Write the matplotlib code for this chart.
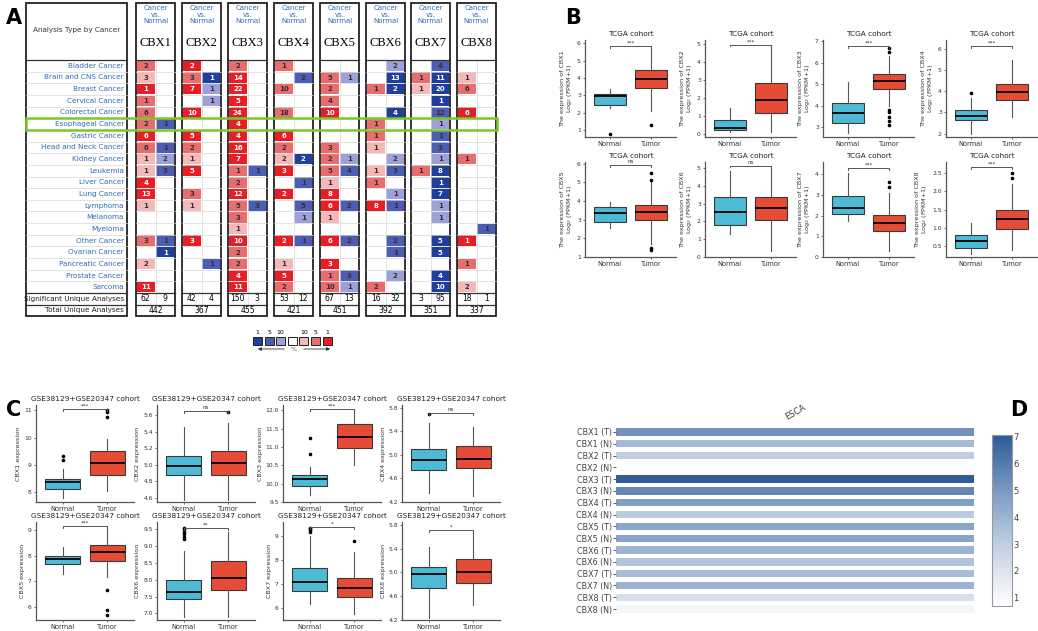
import matplotlib
matplotlib.use("Agg")
import matplotlib.pyplot as plt
from matplotlib.patches import Rectangle
from matplotlib.colors import LinearSegmentedColormap, Normalize
from matplotlib.cm import ScalarMappable

# ============================================
# DATA
# ============================================

genes = ["CBX1", "CBX2", "CBX3", "CBX4", "CBX5", "CBX6", "CBX7", "CBX8"]
cancers = ["Bladder Cancer", "Brain and CNS Cancer", "Breast Cancer", "Cervical Cancer",
           "Colorectal Cancer", "Esophageal Cancer", "Gastric Cancer", "Head and Neck Cancer",
           "Kidney Cancer", "Leukemia", "Liver Cancer", "Lung Cancer", "Lymphoma", "Melanoma",
           "Myeloma", "Other Cancer", "Ovarian Cancer", "Pancreatic Cancer", "Prostate Cancer",
           "Sarcoma"]

# count + gene-rank shade (s = top 1%, m = top 5%, l = top 10%)
cbx1_up = ["2m", "3l", "1s", "1m", "6m", "2m", "6s", "6m", "1l", "1l", "4s", "13s", "1l", "", "", "3m", "", "2l", "", "11s"]
cbx1_down = ["", "", "", "", "", "1m", "", "1m", "2l", "3m", "", "", "", "", "", "1m", "1s", "", "", ""]
cbx2_up = ["2s", "3m", "7s", "", "10s", "", "5s", "2m", "1l", "5s", "", "3m", "1l", "", "", "3s", "", "", "", ""]
cbx2_down = ["", "1s", "1l", "1l", "", "", "", "", "", "", "", "", "", "", "", "", "", "1m", "", ""]
cbx3_up = ["2m", "14s", "22s", "5s", "24s", "4s", "4s", "16s", "7s", "1m", "2m", "12s", "5m", "3m", "1l", "10s", "2m", "2m", "4s", "11s"]
cbx3_down = ["", "", "", "", "", "", "", "", "", "1m", "", "", "3m", "", "", "", "", "", "", ""]
cbx4_up = ["1m", "", "10m", "", "18m", "", "6s", "2m", "2l", "3s", "", "2s", "", "", "", "2s", "", "1l", "5s", "2m"]
cbx4_down = ["", "2m", "", "", "", "", "", "", "2s", "", "1m", "", "5m", "1l", "", "1m", "", "", "", ""]
cbx5_up = ["", "5m", "2m", "4m", "10s", "", "", "3m", "2m", "5m", "1l", "8s", "6s", "1l", "", "6s", "", "3s", "1m", "10m"]
cbx5_down = ["", "1l", "", "", "", "", "", "", "1l", "4m", "", "", "2m", "", "", "2m", "", "", "3m", "1l"]
cbx6_up = ["", "", "1m", "", "", "1m", "1m", "1l", "", "1l", "1m", "", "8s", "", "", "", "", "", "", "2m"]
cbx6_down = ["2l", "13s", "2s", "", "4s", "", "", "", "2l", "3m", "", "1l", "1m", "", "", "2m", "1m", "", "2l", ""]
cbx7_up = ["", "1m", "1l", "", "", "", "", "", "", "1m", "", "", "", "", "", "", "", "", "", ""]
cbx7_down = ["4m", "11s", "20s", "1s", "12m", "1l", "1m", "3m", "1l", "8s", "1s", "7s", "1l", "1l", "", "5s", "5s", "", "4s", "10s"]
cbx8_up = ["", "1l", "6m", "", "6s", "", "", "", "1m", "", "", "", "", "", "", "1s", "", "1m", "", "2l"]
cbx8_down = ["", "", "", "", "", "", "", "", "", "", "", "", "", "", "1m", "", "", "", "", ""]
up_cols = [cbx1_up, cbx2_up, cbx3_up, cbx4_up, cbx5_up, cbx6_up, cbx7_up, cbx8_up]
down_cols = [cbx1_down, cbx2_down, cbx3_down, cbx4_down, cbx5_down, cbx6_down, cbx7_down, cbx8_down]

sig_up = [62, 42, 150, 53, 67, 16, 3, 18]
sig_down = [9, 4, 3, 12, 13, 32, 95, 1]
total_analyses = [442, 367, 455, 421, 451, 392, 351, 337]

# box summaries: [whislo, q1, median, q3, whishi]
tcga_normal = [[2.3, 2.45, 2.97, 3.1, 3.4], [0.1, 0.25, 0.35, 0.8, 1.45], [2.75, 3.2, 3.65, 4.15, 5.1],
               [2.0, 2.65, 2.85, 3.1, 3.7], [2.55, 2.9, 3.38, 3.68, 3.95], [1.3, 1.8, 2.55, 3.4, 4.85],
               [1.75, 2.1, 2.38, 2.93, 4.05], [0.28, 0.45, 0.65, 0.79, 1.13]]
tcga_tumor = [[2.1, 3.45, 3.95, 4.45, 5.85], [0.15, 1.2, 1.9, 2.85, 4.95], [4.0, 4.8, 5.15, 5.45, 6.3],
              [2.8, 3.6, 3.98, 4.35, 5.45], [1.7, 2.97, 3.43, 3.8, 5.0], [0.35, 2.1, 2.78, 3.4, 5.1],
              [0.3, 1.25, 1.65, 2.02, 3.1], [0.4, 0.96, 1.24, 1.49, 2.2]]
tcga_normal_out = [[0.8], [], [], [3.9], [], [], [], []]
tcga_tumor_out = [[1.3], [], [3.1, 3.3, 3.5, 3.7, 3.8, 6.5, 6.7], [], [1.4, 1.5, 5.15, 5.5], [], [3.4, 3.65], [2.35, 2.5]]
tcga_sig = ["***", "***", "***", "***", "ns", "ns", "***", "***"]

geo_normal = [[7.8, 8.12, 8.4, 8.5, 8.85], [4.58, 4.87, 4.99, 5.11, 5.45], [9.68, 9.95, 10.12, 10.23, 10.45],
              [4.36, 4.75, 4.92, 5.11, 5.55], [7.3, 7.68, 7.87, 7.98, 8.35], [6.88, 7.42, 7.64, 7.99, 8.85],
              [6.17, 6.73, 7.1, 7.67, 9.0], [4.23, 4.74, 4.97, 5.1, 5.43]]
geo_tumor = [[8.05, 8.65, 9.07, 9.5, 9.95], [4.58, 4.88, 5.02, 5.17, 5.5], [10.5, 10.98, 11.27, 11.63, 12.05],
             [4.3, 4.77, 4.93, 5.15, 5.47], [7.15, 7.78, 8.15, 8.4, 9.1], [6.88, 7.68, 8.06, 8.55, 9.42],
             [5.75, 6.45, 6.85, 7.25, 8.35], [4.45, 4.82, 5.0, 5.23, 5.7]]
geo_normal_out = [[9.2, 9.35], [], [10.82, 11.25], [5.7], [], [9.22, 9.28, 9.35, 9.42, 9.5, 9.55],
                  [9.2, 9.25, 9.3, 9.35], []]
geo_tumor_out = [[10.75, 10.95, 11.0], [5.63], [], [], [6.65, 5.87, 5.68], [], [8.82], []]
geo_sig = ["***", "ns", "***", "ns", "***", "**", "*", "*"]

esca_rows = ["CBX1 (T)", "CBX1 (N)", "CBX2 (T)", "CBX2 (N)", "CBX3 (T)", "CBX3 (N)", "CBX4 (T)", "CBX4 (N)",
             "CBX5 (T)", "CBX5 (N)", "CBX6 (T)", "CBX6 (N)", "CBX7 (T)", "CBX7 (N)", "CBX8 (T)", "CBX8 (N)"]
esca_values = [5.2, 3.8, 3.0, 0.8, 7.0, 5.6, 4.8, 3.1, 4.6, 4.6, 4.0, 3.4, 3.7, 4.0, 2.2, 1.1]

# ============================================
# STYLE / LAYOUT
# ============================================

W, H = 1038, 631
RED = {"s": "#e61e26", "m": "#e86d6e", "l": "#f5b8b8"}
BLUE = {"s": "#1f3e9e", "m": "#4b5db4", "l": "#9ca2d9"}
LINK = "#2f6db5"
NORMAL_C = "#4dbbd5"
TUMOR_C = "#e64b35"

plt.rcParams["font.family"] = ["DejaVu Sans"]

fig = plt.figure(figsize=(W / 100, H / 100), dpi=100)


def px_rect(left, top, width, height):
    return [left / W, 1 - (top + height) / H, width / W, height / H]


base = fig.add_axes([0, 0, 1, 1])
base.set_xlim(0, W)
base.set_ylim(H, 0)
base.axis("off")

for letter, (lx, ly) in zip("ABCD", [(6, 18), (565, 18), (6, 410), (1010, 410)]):
    base.text(lx, ly, letter, fontsize=15, fontweight="bold", va="center")

# ---------------- Panel A: Oncomine table ----------------
ROW0, ROW_H = 60, 11.65
TOP, HEAD_BOT = 3, 60
SIG_TOP = ROW0 + ROW_H * len(cancers)
TOT_TOP = SIG_TOP + 11.5
BOT = TOT_TOP + 11.5
LAB_L, LAB_R = 26, 127
col_lefts = [136, 182, 228, 274, 320, 366, 411, 457]
COL_W = 39

# label box
for i in range(1, len(cancers)):
    base.plot([LAB_L, LAB_R], [ROW0 + i * ROW_H] * 2, color="#d8d8d8", lw=0.5)
for yline in (HEAD_BOT, SIG_TOP, TOT_TOP):
    base.plot([LAB_L, LAB_R], [yline, yline], color="#333333", lw=0.9)
base.add_patch(Rectangle((LAB_L, TOP), LAB_R - LAB_L, BOT - TOP, fill=False, ec="#222222", lw=1.3))
base.text((LAB_L + LAB_R) / 2, 30, "Analysis Type by Cancer", ha="center", va="center", fontsize=5.2, color="#333333")
for i, name in enumerate(cancers):
    base.text(LAB_R - 3, ROW0 + (i + 0.5) * ROW_H, name, ha="right", va="center", fontsize=5.2, color=LINK)
base.text(LAB_R - 3, SIG_TOP + 5.75, "Significant Unique Analyses", ha="right", va="center", fontsize=5.2, color="#222222")
base.text(LAB_R - 3, TOT_TOP + 5.75, "Total Unique Analyses", ha="right", va="center", fontsize=5.2, color="#222222")

for g, gene in enumerate(genes):
    x0 = col_lefts[g]
    half = COL_W / 2
    for k, word in enumerate(["Cancer", "vs.", "Normal"]):
        base.text(x0 + half, 8 + k * 6.6, word, ha="center", va="center", fontsize=5, color=LINK)
    base.text(x0 + half, 43, gene, ha="center", va="center", fontsize=9, family="Liberation Serif")
    # grid
    for i in range(1, len(cancers)):
        base.plot([x0, x0 + COL_W], [ROW0 + i * ROW_H] * 2, color="#d8d8d8", lw=0.5)
    base.plot([x0 + half, x0 + half], [ROW0, TOT_TOP], color="#d8d8d8", lw=0.5)
    # cells
    for side, col, palette in ((0, up_cols[g], RED), (1, down_cols[g], BLUE)):
        for i, tok in enumerate(col):
            if not tok:
                continue
            val, lev = tok[:-1], tok[-1]
            cx = x0 + side * half
            cy = ROW0 + i * ROW_H
            base.add_patch(Rectangle((cx + 0.6, cy + 0.6), half - 1.2, ROW_H - 1.2, color=palette[lev], lw=0))
            tcol = "white" if lev == "s" else "#3a2e2e"
            base.text(cx + half / 2, cy + ROW_H / 2 + 0.3, val, ha="center", va="center",
                      fontsize=5, fontweight="bold", color=tcol)
    for yline in (HEAD_BOT, SIG_TOP, TOT_TOP):
        base.plot([x0, x0 + COL_W], [yline, yline], color="#333333", lw=0.9)
    base.text(x0 + half / 2, SIG_TOP + 5.75, str(sig_up[g]), ha="center", va="center", fontsize=5.5)
    base.text(x0 + 1.5 * half, SIG_TOP + 5.75, str(sig_down[g]), ha="center", va="center", fontsize=5.5)
    base.text(x0 + half, TOT_TOP + 5.75, str(total_analyses[g]), ha="center", va="center", fontsize=5.5)
    base.add_patch(Rectangle((x0, TOP), COL_W, BOT - TOP, fill=False, ec="#222222", lw=1.3))

# esophageal highlight
esc = cancers.index("Esophageal Cancer")
base.add_patch(Rectangle((LAB_L, ROW0 + esc * ROW_H), col_lefts[-1] + COL_W + 1 - LAB_L, ROW_H,
                         fill=False, ec="#7cc72a", lw=1.8, zorder=5))

# legend
leg_cols = [BLUE["s"], BLUE["m"], BLUE["l"], "white", RED["l"], RED["m"], RED["s"]]
leg_txt = ["1", "5", "10", "", "10", "5", "1"]
for k, (c, t) in enumerate(zip(leg_cols, leg_txt)):
    lx = 253 + k * 11.6
    base.add_patch(Rectangle((lx, 337), 9, 8, fc=c, ec="#222222", lw=0.7))
    base.text(lx + 4.5, 332, t, ha="center", va="center", fontsize=4.5)
base.annotate("", xy=(255, 349), xytext=(287, 349), arrowprops=dict(arrowstyle="-|>", lw=0.6, color="#333333", mutation_scale=5))
base.annotate("", xy=(333, 349), xytext=(301, 349), arrowprops=dict(arrowstyle="-|>", lw=0.6, color="#333333", mutation_scale=5))
base.text(294, 349.5, "%", ha="center", va="center", fontsize=4.5, color="#555555")


# ---------------- box plot helper ----------------
def box_panel(rect, normal, tumor, n_out, t_out, sig, ylim, yticks, title, ylabel, bracket_y):
    ax = fig.add_axes(px_rect(*rect))
    stats = [dict(whislo=normal[0], q1=normal[1], med=normal[2], q3=normal[3], whishi=normal[4], fliers=n_out),
             dict(whislo=tumor[0], q1=tumor[1], med=tumor[2], q3=tumor[3], whishi=tumor[4], fliers=t_out)]
    bp = ax.bxp(stats, positions=[1, 2], widths=0.78, patch_artist=True, showcaps=False,
                boxprops=dict(lw=0.8, edgecolor="#3a3a3a"),
                medianprops=dict(color="black", lw=1.3),
                whiskerprops=dict(color="#555555", lw=0.8),
                flierprops=dict(marker="o", markersize=1.6, markerfacecolor="black", markeredgecolor="black"))
    bp["boxes"][0].set_facecolor(NORMAL_C)
    bp["boxes"][1].set_facecolor(TUMOR_C)
    ax.set_xlim(0.4, 2.6)
    ax.set_ylim(*ylim)
    ax.set_yticks(yticks)
    ax.set_xticks([1, 2])
    ax.set_xticklabels(["Normal", "Tumor"])
    for s in ("top", "right"):
        ax.spines[s].set_visible(False)
    for s in ("left", "bottom"):
        ax.spines[s].set_color("#555555")
        ax.spines[s].set_linewidth(0.9)
    ax.tick_params(labelsize=4.3, length=1.5, width=0.6, color="#555555", pad=1.5, labelcolor="#333333")
    ax.tick_params(axis="x", labelsize=4.8)
    ax.set_title(title, fontsize=5.3, pad=3, color="#222222")
    ax.set_ylabel(ylabel, fontsize=4.6, labelpad=2, color="#333333", linespacing=1.0)
    span = ylim[1] - ylim[0]
    ax.plot([1, 1, 2, 2], [bracket_y - span * 0.02, bracket_y, bracket_y, bracket_y - span * 0.02],
            color="#555555", lw=0.7, clip_on=False)
    ax.text(1.5, bracket_y + span * 0.005, sig, ha="center", va="bottom", fontsize=4, color="#333333")
    return ax


# ---------------- Panel B ----------------
b_ylims = [(0.6, 6.2), (-0.15, 5.2), (2.55, 7.05), (1.85, 6.4), (1.0, 6.1), (0, 5.35), (0, 4.6), (0.2, 2.8)]
b_ticks = [range(1, 7), range(0, 6), range(3, 8), range(2, 7), range(1, 7), range(0, 6), range(0, 5),
           [0.5, 1.0, 1.5, 2.0, 2.5]]
b_brackets = [5.85, 4.95, 6.75, 6.1, 5.95, 5.15, 4.3, 2.65]
b_lefts = [585, 705, 823, 946]
for g in range(8):
    r, c = divmod(g, 4)
    top = 40 if r == 0 else 162
    bot = 137 if r == 0 else 257
    box_panel((b_lefts[c], top, 91, bot - top), tcga_normal[g], tcga_tumor[g], tcga_normal_out[g],
              tcga_tumor_out[g], tcga_sig[g], b_ylims[g], list(b_ticks[g]), "TCGA cohort",
              "The expression of %s\nLog$_2$ (FPKM+1)" % genes[g], b_brackets[g])

# ---------------- Panel C ----------------
c_ylims = [(7.65, 11.2), (4.55, 5.72), (9.5, 12.15), (4.2, 5.85), (5.5, 9.3), (6.8, 9.72), (5.5, 9.6), (4.2, 5.85)]
c_ticks = [[8, 9, 10, 11], [4.6, 4.8, 5.0, 5.2, 5.4, 5.6], [9.5, 10.0, 10.5, 11.0, 11.5, 12.0],
           [4.2, 4.6, 5.0, 5.4, 5.8], [6, 7, 8, 9], [7.0, 7.5, 8.0, 8.5, 9.0, 9.5], [6, 7, 8, 9],
           [4.2, 4.6, 5.0, 5.4, 5.8]]
c_brackets = [11.05, 5.65, 12.05, 5.72, 9.15, 9.55, 9.4, 5.72]
c_lefts = [36, 157, 283, 402]
for g in range(8):
    r, c = divmod(g, 4)
    top = 405 if r == 0 else 522
    bot = 502 if r == 0 else 620
    box_panel((c_lefts[c], top, 98, bot - top), geo_normal[g], geo_tumor[g], geo_normal_out[g],
              geo_tumor_out[g], geo_sig[g], c_ylims[g], c_ticks[g], "GSE38129+GSE20347 cohort",
              "%s expression" % genes[g], c_brackets[g])

# ---------------- Panel D ----------------
cmap = LinearSegmentedColormap.from_list("esca", ["#ffffff", "#c5d3e4", "#7d9bc3", "#2d5b95"])
norm = Normalize(vmin=0.7, vmax=7.05)
axd = fig.add_axes(px_rect(616, 426, 358, 189))
axd.barh(range(len(esca_rows)), [1] * len(esca_rows), left=0, height=0.62,
         color=[cmap(norm(v)) for v in esca_values])
axd.set_xlim(0, 1)
axd.set_ylim(len(esca_rows) - 0.5, -0.5)
axd.set_yticks(range(len(esca_rows)))
axd.set_yticklabels(esca_rows, fontsize=5.8, color="#444444")
axd.set_xticks([])
axd.tick_params(axis="y", length=2, width=0.6, color="#444444", pad=1)
for s in axd.spines.values():
    s.set_visible(False)
axd.text(0.5, 1.02, "ESCA", transform=axd.transAxes, rotation=30, ha="center", va="bottom",
         fontsize=6, color="#444444")

axcb = fig.add_axes(px_rect(992, 435, 20, 171))
cb = fig.colorbar(ScalarMappable(norm=norm, cmap=cmap), cax=axcb)
cb.set_ticks(range(1, 8))
cb.ax.tick_params(labelsize=6, length=0, pad=1, colors="#444444")
cb.outline.set_edgecolor("#999999")
cb.outline.set_linewidth(0.8)

fig.savefig("out.png", dpi=100, facecolor="white")
